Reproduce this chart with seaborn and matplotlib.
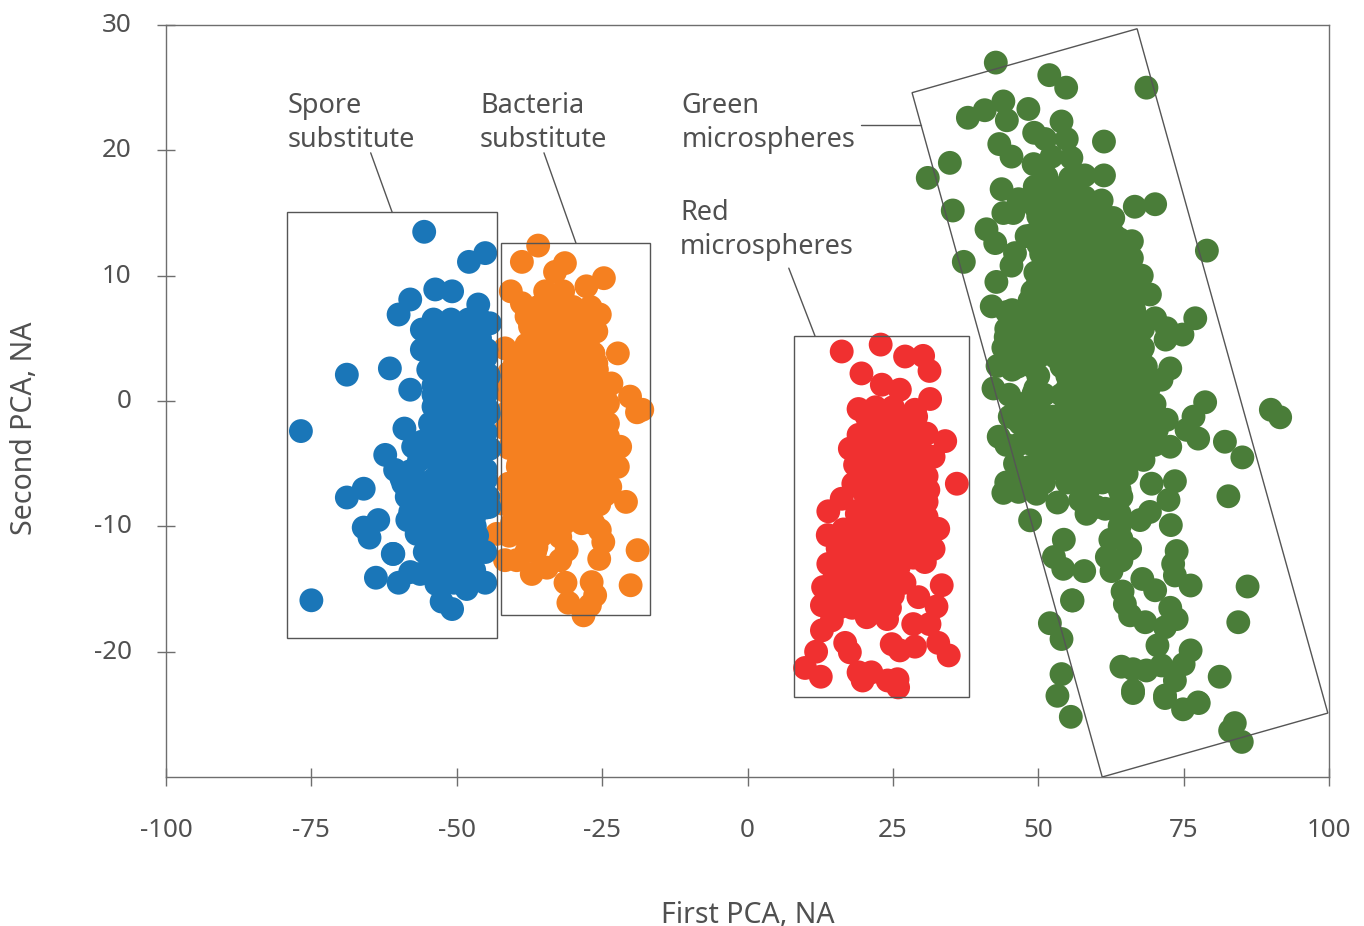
# PCA scatter of the four particle populations
import pandas as pd
import matplotlib.pyplot as plt
from matplotlib.patches import Polygon
from matplotlib.transforms import ScaledTranslation
import seaborn as sns

# ----------- values -------------------------------------------#
blue_x = [-76.8, -75, -68.9, -61.5, -55.6, -47.9, -45.1, -66, -68.9, -63.5, -66, -65, -63.9, -62.3, -61,
          -58, -53.7, -50.8, -46.3, -60, -56, -44.3, -56, -44.9, -54.9, -44.6, -58, -54, -44.6, -44.9, -59, -54.6,
          -57.5, -44.3, -60.6, -59.2, -58.6, -58, -44.6, -44.4, -46.9, -56.9, -55.5, -45.1, -58, -56.3, -60.9, -60,
          -53.5, -52.6, -50.8, -48.3, -45.1, -48.3,
          -54, -51, -48, -46, -55, -52, -49, -46, -54, -51, -48, -45, -53, -50, -47, -44.5, -54, -51, -48, -45,
          -53, -50, -47, -44.5, -54, -51, -48, -45, -55, -52, -49, -46, -53, -50, -47, -45, -55, -52, -49, -46,
          -54, -51, -48, -45, -56, -53, -50, -47, -54, -51, -48, -54, -52, -49, -50.5,
          -54.5, -52, -49, -46, -54, -51.5, -48.5, -45.5, -56, -53, -50, -47, -56.5, -53.5, -50.5, -47.5,
          -57, -54, -51, -48, -45, -57, -54, -51, -48, -56.5, -53, -50, -47, -55.5, -52.5, -49.5, -46.5,
          -53, -50, -47, -52, -49.5, -47, -59.5, -58, -57.5, -56.5, -58.5]
blue_y = [-2.4, -15.9, 2.1, 2.6, 13.5, 11.1, 11.8, -7, -7.7, -9.5, -10.1, -10.9, -14.1, -4.3, -12.2,
          8.1, 8.9, 8.75, 7.7, 6.9, 5.7, 6.2, 4.1, 4.1, 2.5, 2.1, 0.9, -0.45, -0.7, 0.9, -2.2, -1.8,
          -3.65, -3.8, -5.5, -6.6, -7.65, -8.85, -7.65, -8.45, -10, -10.6, -12.05, -12.05, -13.65, -13.8, -12.2, -14.5,
          -14.6, -16, -16.6, -15, -14.5, -13,
          6.5, 6.5, 6.5, 6.5, 5, 5, 5, 5, 3.5, 3.5, 3.5, 3.5, 2, 2, 2, 2, 0.5, 0.5, 0.5, 0.5,
          -1, -1, -1, -1, -2.5, -2.5, -2.5, -2.5, -4, -4, -4, -4, -5.5, -5.5, -5.5, -5.5, -7, -7, -7, -7,
          -8.5, -8.5, -8.5, -8.5, -10, -10, -10, -10, -11.5, -11.5, -11.5, -13, -13, -13, -14.5,
          2.75, 2.75, 2.75, 2.75, 1.25, 1.25, 1.25, 1.25, -3.25, -3.25, -3.25, -3.25, -4.75, -4.75, -4.75, -4.75,
          -6.25, -6.25, -6.25, -6.25, -6.25, -7.75, -7.75, -7.75, -7.75, -9.25, -9.25, -9.25, -9.25, -10.75, -10.75,
          -10.75, -10.75, -12.25, -12.25, -12.25, -13.5, -13.5, -13.5, -6.2, -5.6, -6.8, -8, -9.5]

orange_x = [-36, -38.8, -31.4, -33.1, -24.7, -40.7, -38.8, -34.8, -31.7, -27.7, -25.4, -37.4, -26, -41.7, -22.3, -26.5,
            -25.9, -23.4, -20.2, -19, -18.1, -24, -24, -24, -21.9, -22.3, -23.6, -20.9, -39.4, -41.1, -42, -39.1,
            -43.1, -41.7, -39.7, -37.1, -34.5, -32.2, -31.1, -32.2, -36.3, -25.4, -24.8, -25.5, -18.9, -20.1,
            -31.3, -26.8, -26.2, -30.8, -27.1, -28.2, -27.7, -28.8, -35.7,
            -36, -33, -30, -27, -37, -34, -31, -28, -38, -35.5, -33, -30, -27.5, -40, -37, -34, -31, -28, -26,
            -41, -38, -35, -32, -29, -26, -40, -37, -34, -31, -28, -25, -41, -38, -35, -32, -29, -26,
            -40, -37, -34, -31, -28, -25, -38, -35, -32, -29, -26, -23.5, -37, -34, -31, -28, -25,
            -39, -36, -33, -30, -27, -24.5, -37, -34, -31,
            -38, -35.5, -32.5, -29.5, -26.5, -36.5, -33.5, -30.5, -28, -39, -36, -33, -29, -26.5,
            -41, -38.5, -35.5, -32.5, -29.5, -27, -41.5, -38.5, -35.5, -32.5, -29.5, -26.5, -24.5,
            -41, -38.5, -35.5, -32.5, -29.5, -26.5, -41.5, -38.5, -35.5, -32.5, -29.5, -26.5,
            -41, -38.5, -35.5, -32.5, -29.5, -26.5, -39.5, -36.5, -33.5, -30.5, -27.5, -24.5,
            -38.5, -35.5, -32.5, -29.5, -26.5, -40, -37.5, -34.5, -31.5, -28.5, -25.5,
            -40.5, -37.5, -34.5, -31.5, -28.5, -26.5, -41, -38.5, -35.5, -38, -36.5]
orange_y = [12.4, 11.1, 11, 10.3, 9.8, 8.75, 7.8, 8.75, 8.75, 9.15, 6.9, 5.95, 5.55, 4.2, 3.8, 3.8,
            2.5, 1.4, 0.35, -0.9, -0.7, -0.2, -1.8, -2.85, -3.65, -5.25, -6.85, -8.05, -5, -6.6, -8.2, -9,
            -10.6, -12.7, -12.7, -13.8, -13.3, -12.7, -11.9, -10.85, -11.65, -10.3, -11.25, -12.6, -11.9, -14.7,
            -14.5, -14.45, -15.5, -16.1, -16.3, -17.1, -9, -9.5, -9.5,
            7.5, 7.5, 7.5, 7.5, 6, 6, 6, 6, 4.5, 4.5, 4.5, 4.5, 4.5, 3, 3, 3, 3, 3, 3,
            1.5, 1.5, 1.5, 1.5, 1.5, 1.5, 0, 0, 0, 0, 0, 0, -1.5, -1.5, -1.5, -1.5, -1.5, -1.5,
            -3, -3, -3, -3, -3, -3, -4.5, -4.5, -4.5, -4.5, -4.5, -4.5, -6, -6, -6, -6, -6,
            -7.5, -7.5, -7.5, -7.5, -7.5, -7.5, -9, -9, -9,
            6.75, 6.75, 6.75, 6.75, 6.75, 5.25, 5.25, 5.25, 5.25, 3.75, 3.75, 3.75, 3.75, 3.75,
            2.25, 2.25, 2.25, 2.25, 2.25, 2.25, 0.75, 0.75, 0.75, 0.75, 0.75, 0.75, 0.75,
            -0.75, -0.75, -0.75, -0.75, -0.75, -0.75, -2.25, -2.25, -2.25, -2.25, -2.25, -2.25,
            -3.75, -3.75, -3.75, -3.75, -3.75, -3.75, -5.25, -5.25, -5.25, -5.25, -5.25, -5.25,
            -6.75, -6.75, -6.75, -6.75, -6.75, -8.25, -8.25, -8.25, -8.25, -8.25, -8.25,
            -9.75, -9.75, -9.75, -9.75, -9.75, -9.75, -10.75, -10.75, -10.75, -12, -12]

red_x = [16.2, 22.9, 27.1, 30.2, 31.3, 19.6, 23.1, 26.2, 31.4, 19.1, 28.8, 30.8, 34, 19.1, 17.6, 32, 18.5, 30.8, 36,
         18.2, 31.1, 16.2, 30.8, 13.9, 18.8, 30.8, 32.8, 13.8, 32, 17.6, 30.5, 13.9, 13, 33.4, 12.8, 32.5, 29.4, 15.9,
         20.5, 24, 24.5, 12.8, 31.3, 28.5, 11.8, 16.8, 17.6, 24.8, 26.2, 28.8, 32.8, 34.6, 9.9, 12.6, 19.1, 19.8,
         21.3, 24.1, 25.8, 25.9,
         22, 25, 21, 24, 27, 20, 23, 26, 29, 21.5, 24.5, 27.5, 30, 20, 23, 26, 29, 21.5, 24.5, 27.5, 29.5,
         20, 23, 26, 29, 18, 21, 24, 27, 30, 16.5, 19.5, 22.5, 25.5, 28.5, 15, 18, 21, 24, 27, 16, 19, 22, 25,
         18, 21, 24, 14.5,
         20.5, 23.5, 26.5, 29, 22.5, 25.5, 28.5, 19, 22, 25, 28, 30.5, 19.5, 22.5, 25.5, 28.5, 20, 23, 26, 29,
         19, 22, 25, 28, 16.5, 19, 22, 25, 28, 31, 15.5, 18.5, 21.5, 24.5, 27.5, 15, 17, 20, 23, 26,
         14, 17, 20, 23, 14.5, 17.5, 20.5, 23]
red_y = [3.95, 4.5, 3.55, 3.6, 2.4, 2.2, 1.3, 0.9, 0.16, -0.64, -0.7, -2.6, -3.2, -2.7, -3.8, -4.45, -5.1, -6, -6.6,
         -6.6, -7.1, -7.8, -8.05, -8.8, -9, -9.25, -10.2, -10.7, -11.8, -11.1, -12.85, -13, -14.85, -14.7, -16.3,
         -16.4, -15.65, -16.45, -17.25, -17.4, -16.5, -18.3, -17.8, -17.8, -20, -19.3, -20.05, -19.4, -19.9, -19.6,
         -19.3, -20.3, -21.3, -22, -21.65, -22.3, -21.65, -22.3, -22.2, -22.85,
         -0.5, -0.5, -2, -2, -2, -3.5, -3.5, -3.5, -3.5, -5, -5, -5, -5, -6.5, -6.5, -6.5, -6.5, -8, -8, -8, -8,
         -9.5, -9.5, -9.5, -9.5, -11, -11, -11, -11, -11, -12.5, -12.5, -12.5, -12.5, -12.5, -14, -14, -14, -14, -14.5,
         -15.5, -15.5, -15.5, -15.5, -16.5, -16.5, -16.5, -17.5,
         -1.25, -1.25, -1.25, -1.25, -2.75, -2.75, -2.75, -4.25, -4.25, -4.25, -4.25, -4.25, -5.75, -5.75, -5.75, -5.75,
         -7.25, -7.25, -7.25, -7.25, -8.75, -8.75, -8.75, -8.75, -10.25, -10.25, -10.25, -10.25, -10.25, -10.25,
         -11.75, -11.75, -11.75, -11.75, -11.75, -13.25, -13.25, -13.25, -13.25, -13.25,
         -14.75, -14.75, -14.75, -14.75, -15.8, -15.8, -15.8, -15.8]

green_x = [42.7, 51.9, 54.8, 68.6, 40.8, 44, 44.6, 48.3, 54, 49.3, 61.3, 43.3, 45.4, 54.9, 55.7, 51.2, 52.3, 49.2,
           61.3, 58, 51.4, 49.4, 55.5, 43.7, 60.9, 66.6, 70.1, 62.9, 44, 45.7, 46.6, 41.1, 42.6, 66.1, 48, 64,
           37.9, 34.8, 31, 35.3, 79, 37.2, 45.4, 42.8, 69.2, 42, 77, 70.1, 72.1, 74.8, 71.9, 67.7, 72.7, 71.2,
           43, 44.8, 42.3, 78.7, 76.7, 46, 67.8, 49.7, 44.6, 44.4, 66.1, 51.7, 57.5, 69.8, 46.3, 49.2,
           43.2, 44, 46.6, 48.6, 54.4, 52.7, 54.3, 57.9, 55.9, 52, 54, 54, 53.3, 62.4, 61.8, 64.3, 65.8, 64.3, 62.6,
           73.8, 73.2, 73.5, 76.2, 86, 82.7, 84.4, 81.2, 67.9, 70.1, 64.5, 64.9, 65.8, 68.4, 72.7, 73.8, 71.8, 70.5,
           76.2, 75, 71.2, 73.5, 64.3, 66.3, 68.6, 66.3, 71.8, 77.5, 82.1, 85.1, 72.8, 72.4, 73.5, 69.5, 67.5, 69.2,
           58.3, 61.5, 64.3, 53.3, 58.6, 56, 50.3, 46.9, 49.7, 52, 52.6, 57.7, 64, 68.1, 72.7, 77.5, 62.9, 62.9, 60,
           66.9, 70.4, 46.9, 51.4, 57.7, 62.9, 68.6, 90, 91.6, 83, 83.8, 85, 55.8, 55.6, 74.9, 71.8, 66.3, 77.6,
           45.1, 47.4, 48.6, 51.4, 50.9, 53.7, 48.6, 46.9, 49.2, 58.3, 59.5, 54.9, 52.6, 53.2, 57.7, 61.8, 65.2, 68.6,
           72.1, 75.5, 62.9, 66.3, 65.2, 62.9, 57.7, 60, 64, 64, 64, 60, 57.2,
           50, 53, 56, 49.5, 52.5, 55.5, 58.5, 60, 51, 54, 57, 60, 50, 53, 56, 59, 62, 64, 51.5, 54.5, 57.5, 60.5,
           63.5, 65.5, 50, 53, 56, 59, 62, 65, 48.5, 51.5, 54.5, 57.5, 60.5, 63.5, 66.5, 47, 50, 53, 56, 59, 62,
           65, 67, 45.5, 48.5, 51.5, 54.5, 57.5, 60.5, 63.5, 66.5, 47, 50, 53, 56, 59, 62, 65, 67, 45.5, 50, 55, 58,
           61, 64, 66.5, 45, 49, 51, 54, 57, 60, 63, 66, 68,
           49, 52, 55, 58, 50, 53, 56, 59, 61.5, 49, 51.5, 54.5, 57.5, 60.5, 63, 50.5, 53, 56, 59, 62, 64.5,
           49.5, 52, 55, 58, 61, 64, 66.5, 49, 52, 55, 58, 61, 64, 67, 45.5, 48.5, 51.5, 54.5, 57.5, 60.5, 63.5, 66.5,
           44.5, 47, 50, 53, 56, 59, 62, 65, 68, 44, 47, 50, 53, 56, 59, 62, 65, 68, 46.5, 49, 54, 57, 60, 63, 66, 68.5,
           49.5, 55, 58, 61, 64, 67, 69, 47, 50, 56, 59, 62, 65, 68, 70, 48, 50, 55, 60, 63, 66, 70,
           44.5, 46.5, 54.5, 60, 65, 68, 70, 46, 55, 58, 65, 44.5, 51, 55, 59, 61]
green_y = [27, 26, 25, 25, 23.2, 23.9, 22.4, 23.3, 22.3, 21.4, 20.7, 20.5, 19.5, 20.9, 19.4, 20.9, 19.5, 18.9,
           18, 18, 17.9, 17.1, 17.8, 16.9, 16, 15.5, 15.7, 14.6, 15, 15, 16.1, 13.7, 12.6, 12.75, 13.15, 12.9,
           22.6, 19, 17.8, 15.2, 12, 11.1, 10.8, 9.5, 8.5, 7.55, 6.6, 6.6, 5.8, 5.3, 4.9, 4, 2.6, 1.7,
           2.8, 2.9, 1, -0.1, -1.25, 11.8, 10, 8.6, 7.1, 5.1, 11.4, -1.5, -1, -0.45, -1.5, 0.6,
           -2.85, -7.33, -7.25, -9.52, -11.07, -12.45, -13.39, -13.57, -15.92, -17.73, -18.99, -21.79, -23.52, -11.07,
           -12.45, -11, -11.79, -12.72, -13.57,
           -11.97, -13, -13.92, -14.72, -14.8, -7.6, -17.65, -22, -14.2, -15.1, -15.2, -16.2, -17.1, -17.65, -16.5,
           -17.4, -18.05, -19.5,
           -19.9, -21, -21.1, -22.3, -21.2, -21.4, -21.5, -23.1, -23.5, -24.05, -3.25, -4.5, -9.9, -7.9, -6.4, -6.6,
           -9.5, -8.85,
           -9, -8.6, -7.65, -8.1, -7.1, -4.3, -4.7, -6.45, -7.4, -5.5, -3.25, -3.4, -4.7, -4.7, -3.65, -3, -2.6, -5.25,
           -6.05, -2.6, -2.3, -1.8, -1.25, -1, -0.7, -0.7, -0.7, -1.3, -26.3, -25.7, -27.2, -15.9, -25.2, -24.6, -23.7,
           -23.3, -24.1,
           -1.25, -1.5, -3.4, -3.4, -4.45, -4.2, -5.25, -6.05, -6.3, -1.5, -0.45, -0.45, -1.25, -2.6, -2.6, -1.5, -1.5,
           -1.8, -1.5, -2.3, -3.9, -3.9, -5.8, -5.9, -5.5, -5, -7.1, -9, -10, -8.45, -7.9,
           17, 17, 17, 15.5, 15.5, 15.5, 15.5, 15.5, 14, 14, 14, 14, 12.5, 12.5, 12.5, 12.5, 12.5, 12.5, 11, 11, 11, 11,
           11, 11, 9.5, 9.5, 9.5, 9.5, 9.5, 9.5, 8, 8, 8, 8, 8, 8, 8, 6.5, 6.5, 6.5, 6.5, 6.5, 6.5,
           6.5, 6.5, 5, 5, 5, 5, 5, 5, 5, 5, 3.5, 3.5, 3.5, 3.5, 3.5, 3.5, 3.5, 3.5, 2.5, 2, 2, 2,
           2, 2, 2, 0.5, 0.3, 0.5, 0.5, 0.5, 0.5, 0.5, 0.5, 0.5,
           16.25, 16.25, 16.25, 16.25, 14.75, 14.75, 14.75, 14.75, 14.75, 13.25, 13.25, 13.25, 13.25, 13.25, 13.25,
           11.75, 11.75, 11.75, 11.75, 11.75, 11.75,
           10.25, 10.25, 10.25, 10.25, 10.25, 10.25, 10.25, 8.75, 8.75, 8.75, 8.75, 8.75, 8.75, 8.75,
           7.25, 7.25, 7.25, 7.25, 7.25, 7.25, 7.25, 7.25,
           5.75, 5.75, 5.75, 5.75, 5.75, 5.75, 5.75, 5.75, 5.75, 4.25, 4.25, 4.25, 4.25, 4.25, 4.25, 4.25, 4.25, 4.25,
           2.75, 2.75, 2.75, 2.75, 2.75, 2.75, 2.75, 2.75,
           1, 1, 1, 1, 1, 1, 1, -0.25, -0.25, -0.25, -0.25, -0.25, -0.25, -0.25, -0.25, -2, -2, -2, -2, -2, -2, -2,
           -3.5, -3.5, -3.5, -3.5, -3.5, -3.5, -3.5, -5, -5, -5, -5, -6.5, -6.5, -6.5, -6.5, -6.5]

x_ticks = [-100, -75, -50, -25, 0, 25, 50, 75, 100]
y_ticks = [-20, -10, 0, 10, 20, 30]

# orange goes first: the blue spots lie over it where the two touch
groups = ["Bacteria", "Spore", "Red", "Green"]
colors = ["#f58020", "#1a76b8", "#f03030", "#4a7d39"]

# boxes drawn round the populations
spore_box = [(-79.2, 15.05), (-43.1, 15.05), (-43.1, -18.9), (-79.2, -18.9)]
bacteria_box = [(-42.4, 12.6), (-16.8, 12.6), (-16.8, -17.1), (-42.4, -17.1)]
red_box = [(8, 5.2), (38.1, 5.2), (38.1, -23.6), (8, -23.6)]
green_box = [(28.3, 24.6), (67, 29.7), (99.8, -24.9), (61, -30)]

leaders = [((-64.8, 19.8), (-61.1, 15.05)),
           ((-35, 19.8), (-29.5, 12.6)),
           ((19.5, 22), (29.8, 22)),
           ((7.1, 10.6), (11.6, 5.2))]

labels = [(-79, 22.2, "Spore\nsubstitute"),
          (-46, 22.2, "Bacteria\nsubstitute"),
          (-11.3, 22.2, "Green\nmicrospheres"),
          (-11.6, 13.65, "Red\nmicrospheres")]

df = pd.concat([pd.DataFrame({"pc1": orange_x, "pc2": orange_y, "group": "Bacteria"}),
                pd.DataFrame({"pc1": blue_x, "pc2": blue_y, "group": "Spore"}),
                pd.DataFrame({"pc1": red_x, "pc2": red_y, "group": "Red"}),
                pd.DataFrame({"pc1": green_x, "pc2": green_y, "group": "Green"})],
               ignore_index=True)

# -------------------------------------------------------------
sns.set_theme(style="white")
plt.rcParams["font.family"] = ["Noto Sans", "DejaVu Sans"]
plt.rcParams["axes.unicode_minus"] = False

TEXT = "#505050"
LINE = "#6e6e6e"
BOX = "#555555"

fig = plt.figure(figsize=(13.64, 9.26), dpi=100)
ax = fig.add_axes([166 / 1364, 149 / 926, 1163 / 1364, 752 / 926])

sns.scatterplot(data=df, x="pc1", y="pc2", hue="group", hue_order=groups,
                palette=colors, s=295, linewidth=0, legend=False, ax=ax, clip_on=False)

ax.set_xlim(-100, 100)
ax.set_ylim(-30, 30)
ax.set_xticks(x_ticks)
ax.set_xticklabels([str(t) for t in x_ticks])
ax.set_yticks(y_ticks)
ax.set_yticklabels([str(t) for t in y_ticks])
ax.tick_params(axis="x", direction="inout", length=12.5, width=1, color=LINE,
               labelcolor=TEXT, labelsize=18.7, pad=23, bottom=True)
ax.tick_params(axis="y", direction="inout", length=12.5, width=1, color=LINE,
               labelcolor=TEXT, labelsize=18.7, pad=18.5, left=True)
# y tick labels sit a little above their ticks
lift = ScaledTranslation(0, 2.5 / 100, fig.dpi_scale_trans)
for lab in ax.get_yticklabels():
    lab.set_transform(lab.get_transform() + lift)
for side in ax.spines.values():
    side.set_color(LINE)
    side.set_linewidth(1)

for box in [spore_box, bacteria_box, red_box, green_box]:
    ax.add_patch(Polygon(box, closed=True, fill=False, edgecolor=BOX, linewidth=1, zorder=5))
for start, end in leaders:
    ax.plot([start[0], end[0]], [start[1], end[1]], color=BOX, linewidth=1, zorder=5)
for lx, ly, txt in labels:
    ax.text(lx, ly, txt, color=TEXT, fontsize=19.5, ha="left", va="center", linespacing=1.3)

ax.set_xlabel("First PCA, NA", color=TEXT, fontsize=20.5, va="center")
ax.set_ylabel("Second PCA, NA", color=TEXT, fontsize=20.5, va="center")
ax.xaxis.set_label_coords(0.5, -0.184)
ax.yaxis.set_label_coords(-0.122, 0.464)

fig.savefig("out.png", dpi=100)
plt.close(fig)
